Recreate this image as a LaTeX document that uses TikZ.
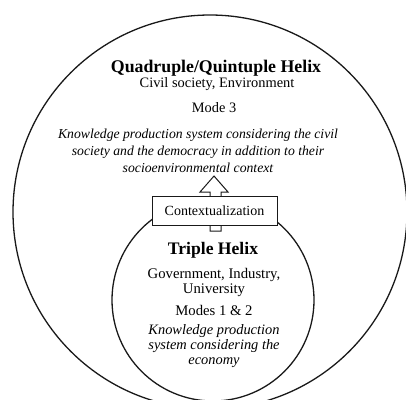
\documentclass[tikz,border=0pt]{standalone}
\usepackage{fontspec}
\setmainfont{Liberation Serif}
\begin{document}
\begin{tikzpicture}[x=1pt,y=-1pt,
  ring/.style={draw=black!90,line width=1.3pt},
  title/.style={font=\fontsize{17.8}{20}\selectfont\bfseries,inner sep=0pt},
  body/.style={font=\fontsize{14.4}{15}\selectfont,inner sep=0pt,align=center},
  desc/.style={font=\fontsize{13.7}{17}\selectfont\itshape,inner sep=0pt,align=center},
  smalldesc/.style={font=\fontsize{14.4}{14.6}\selectfont\itshape,inner sep=0pt,align=center},
  ctxbox/.style={draw=black!90,line width=1pt,fill=white,minimum width=125pt,minimum height=29pt,inner sep=0pt,font=\fontsize{14}{15}\selectfont}]
\useasboundingbox (0,0) rectangle (406,399);
\clip (0,0) rectangle (406,399);
% outer and inner circles
\node[ring,circle,minimum size=394pt,inner sep=0pt] (outer) at (210,212) {};
\node[ring,circle,minimum size=202pt,inner sep=0pt] (inner) at (213,300) {};
% hollow arrow from the triple helix to the outer circle
\draw[draw=black!90,line width=1pt,fill=white]
  (210,231) -- (210,192) -- (200,192) -- (214,176) -- (228,192) -- (221,192) -- (221,231) -- cycle;
\node[ctxbox] (ctx) at (214.5,210.5) {Contextualization};
% outer circle texts
\node[title] (qh) at (216,68) {Quadruple/Quintuple Helix};
\node[body] (cs) at (217,84) {Civil society, Environment};
\node[body] (m3) at (214,108) {Mode 3};
\node[desc] (kp) at (198,151) {Knowledge production system considering the civil\\society and the democracy in addition to their\\socioenvironmental context};
% inner circle texts
\node[title,font=\fontsize{17.6}{19}\selectfont\bfseries] (th) at (213,250) {Triple Helix};
\node[body,font=\fontsize{14.7}{15}\selectfont] (gi) at (214,282) {Government, Industry,\\University};
\node[body,font=\fontsize{14.7}{15}\selectfont] (m12) at (214,310) {Modes 1 \& 2};
\node[smalldesc] (kps) at (214,346) {Knowledge production\\system considering the\\economy};
\end{tikzpicture}
\end{document}
